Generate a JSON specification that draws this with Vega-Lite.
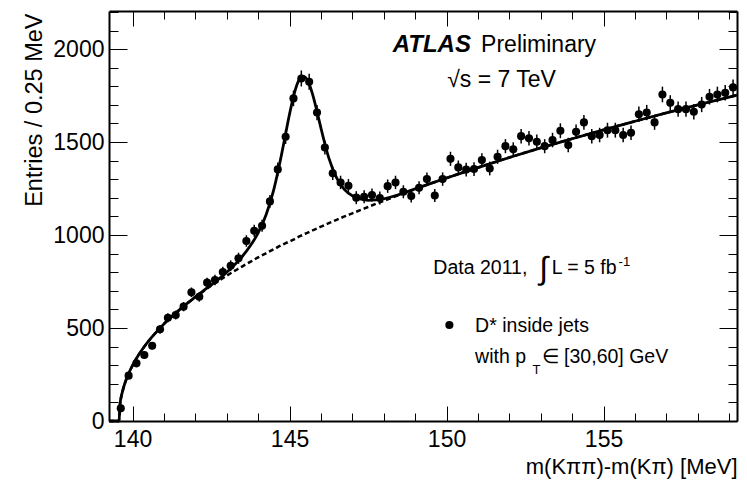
{
  "$schema": "https://vega.github.io/schema/vega-lite/v6.json",
  "autosize": {"type": "none"},
  "padding": {"left": 109, "top": 11, "right": 10, "bottom": 62},
  "width": 628,
  "height": 410,
  "background": "white",
  "config": {
    "font": "Liberation Sans",
    "view": {"stroke": null},
    "axis": {
      "domainColor": "black", "domainWidth": 2, "tickColor": "black", "tickWidth": 1,
      "labelColor": "black", "titleColor": "black", "labelFontSize": 23, "titleFontSize": 23,
      "titleFontWeight": "normal", "labelFlush": false, "labelOverlap": false, "grid": false
    }
  },
  "datasets": {
    "points": [
      {"m": 139.625, "v": 68, "err": 8}, {"m": 139.875, "v": 244, "err": 16}, {"m": 140.125, "v": 310, "err": 18},
      {"m": 140.375, "v": 355, "err": 19}, {"m": 140.625, "v": 405, "err": 20}, {"m": 140.875, "v": 493, "err": 22},
      {"m": 141.125, "v": 555, "err": 24}, {"m": 141.375, "v": 570, "err": 24}, {"m": 141.625, "v": 615, "err": 25},
      {"m": 141.875, "v": 692, "err": 26}, {"m": 142.125, "v": 668, "err": 26}, {"m": 142.375, "v": 744, "err": 27},
      {"m": 142.625, "v": 758, "err": 28}, {"m": 142.875, "v": 801, "err": 28}, {"m": 143.125, "v": 835, "err": 29},
      {"m": 143.375, "v": 875, "err": 30}, {"m": 143.625, "v": 968, "err": 31}, {"m": 143.875, "v": 1023, "err": 32},
      {"m": 144.125, "v": 1050, "err": 32}, {"m": 144.375, "v": 1181, "err": 34}, {"m": 144.625, "v": 1353, "err": 37},
      {"m": 144.875, "v": 1529, "err": 39}, {"m": 145.125, "v": 1735, "err": 42}, {"m": 145.375, "v": 1842, "err": 43},
      {"m": 145.625, "v": 1824, "err": 43}, {"m": 145.875, "v": 1659, "err": 41}, {"m": 146.125, "v": 1471, "err": 38},
      {"m": 146.375, "v": 1332, "err": 36}, {"m": 146.625, "v": 1283, "err": 36}, {"m": 146.875, "v": 1265, "err": 36},
      {"m": 147.125, "v": 1201, "err": 35}, {"m": 147.375, "v": 1206, "err": 35}, {"m": 147.625, "v": 1215, "err": 35},
      {"m": 147.875, "v": 1199, "err": 35}, {"m": 148.125, "v": 1263, "err": 36}, {"m": 148.375, "v": 1283, "err": 36},
      {"m": 148.625, "v": 1233, "err": 35}, {"m": 148.875, "v": 1210, "err": 35}, {"m": 149.125, "v": 1254, "err": 35},
      {"m": 149.375, "v": 1301, "err": 36}, {"m": 149.625, "v": 1213, "err": 35}, {"m": 149.875, "v": 1301, "err": 36},
      {"m": 150.125, "v": 1410, "err": 38}, {"m": 150.375, "v": 1364, "err": 37}, {"m": 150.625, "v": 1352, "err": 37},
      {"m": 150.875, "v": 1355, "err": 37}, {"m": 151.125, "v": 1403, "err": 37}, {"m": 151.375, "v": 1358, "err": 37},
      {"m": 151.625, "v": 1421, "err": 38}, {"m": 151.875, "v": 1478, "err": 38}, {"m": 152.125, "v": 1461, "err": 38},
      {"m": 152.375, "v": 1532, "err": 39}, {"m": 152.625, "v": 1520, "err": 39}, {"m": 152.875, "v": 1502, "err": 39},
      {"m": 153.125, "v": 1478, "err": 38}, {"m": 153.375, "v": 1511, "err": 39}, {"m": 153.625, "v": 1561, "err": 40},
      {"m": 153.875, "v": 1484, "err": 39}, {"m": 154.125, "v": 1555, "err": 39}, {"m": 154.375, "v": 1606, "err": 40},
      {"m": 154.625, "v": 1532, "err": 39}, {"m": 154.875, "v": 1538, "err": 39}, {"m": 155.125, "v": 1564, "err": 40},
      {"m": 155.375, "v": 1564, "err": 40}, {"m": 155.625, "v": 1538, "err": 39}, {"m": 155.875, "v": 1550, "err": 39},
      {"m": 156.125, "v": 1650, "err": 41}, {"m": 156.375, "v": 1659, "err": 41}, {"m": 156.625, "v": 1606, "err": 40},
      {"m": 156.875, "v": 1756, "err": 42}, {"m": 157.125, "v": 1711, "err": 41}, {"m": 157.375, "v": 1677, "err": 41},
      {"m": 157.625, "v": 1677, "err": 41}, {"m": 157.875, "v": 1663, "err": 41}, {"m": 158.125, "v": 1702, "err": 41},
      {"m": 158.375, "v": 1744, "err": 42}, {"m": 158.625, "v": 1756, "err": 42}, {"m": 158.875, "v": 1765, "err": 42},
      {"m": 159.125, "v": 1794, "err": 42}
    ],
    "curve": [
      {"m": 139.25, "fit": 0, "bg": 0}, {"m": 139.57, "fit": 0, "bg": 0}, {"m": 139.6, "fit": 87, "bg": 87},
      {"m": 139.65, "fit": 138, "bg": 138}, {"m": 139.7, "fit": 172, "bg": 172}, {"m": 139.8, "fit": 224, "bg": 224},
      {"m": 139.9, "fit": 265, "bg": 265}, {"m": 140.0, "fit": 299, "bg": 299}, {"m": 140.2, "fit": 357, "bg": 357},
      {"m": 140.4, "fit": 406, "bg": 406}, {"m": 140.6, "fit": 448, "bg": 448}, {"m": 140.8, "fit": 486, "bg": 486},
      {"m": 141.0, "fit": 522, "bg": 522}, {"m": 141.25, "fit": 562, "bg": 562}, {"m": 141.5, "fit": 599, "bg": 599},
      {"m": 141.75, "fit": 634, "bg": 634}, {"m": 142.0, "fit": 667, "bg": 666}, {"m": 142.25, "fit": 700, "bg": 697},
      {"m": 142.5, "fit": 731, "bg": 727}, {"m": 142.75, "fit": 764, "bg": 755}, {"m": 143.0, "fit": 800, "bg": 782},
      {"m": 143.25, "fit": 840, "bg": 807}, {"m": 143.5, "fit": 886, "bg": 832}, {"m": 143.75, "fit": 942, "bg": 856},
      {"m": 144.0, "fit": 1012, "bg": 880}, {"m": 144.25, "fit": 1108, "bg": 902}, {"m": 144.5, "fit": 1246, "bg": 924},
      {"m": 144.75, "fit": 1437, "bg": 946}, {"m": 144.875, "fit": 1545, "bg": 956}, {"m": 145.0, "fit": 1651, "bg": 966},
      {"m": 145.125, "fit": 1745, "bg": 976}, {"m": 145.25, "fit": 1815, "bg": 987}, {"m": 145.4, "fit": 1854, "bg": 999},
      {"m": 145.5, "fit": 1849, "bg": 1007}, {"m": 145.625, "fit": 1812, "bg": 1016}, {"m": 145.75, "fit": 1747, "bg": 1026},
      {"m": 145.875, "fit": 1664, "bg": 1035}, {"m": 146.0, "fit": 1575, "bg": 1045}, {"m": 146.25, "fit": 1415, "bg": 1064},
      {"m": 146.5, "fit": 1307, "bg": 1082}, {"m": 146.75, "fit": 1244, "bg": 1100}, {"m": 147.0, "fit": 1211, "bg": 1117},
      {"m": 147.25, "fit": 1194, "bg": 1134}, {"m": 147.5, "fit": 1187, "bg": 1151}, {"m": 147.75, "fit": 1189, "bg": 1168},
      {"m": 148.0, "fit": 1195, "bg": 1184}, {"m": 148.5, "fit": 1219, "bg": 1216}, {"m": 149.0, "fit": 1248, "bg": 1247},
      {"m": 150.0, "fit": 1307, "bg": 1307}, {"m": 151.0, "fit": 1363, "bg": 1363}, {"m": 152.0, "fit": 1417, "bg": 1417},
      {"m": 153.0, "fit": 1469, "bg": 1469}, {"m": 154.0, "fit": 1518, "bg": 1518}, {"m": 155.0, "fit": 1566, "bg": 1566},
      {"m": 156.0, "fit": 1612, "bg": 1612}, {"m": 157.0, "fit": 1657, "bg": 1657}, {"m": 158.0, "fit": 1700, "bg": 1700},
      {"m": 159.0, "fit": 1742, "bg": 1742}, {"m": 159.25, "fit": 1753, "bg": 1753}
    ],
    "big": [
      {"m": 151.1, "v": 1982, "t": "Preliminary"},
      {"m": 150.02, "v": 1797, "t": "√s = 7 TeV"}
    ],
    "mid": [
      {"m": 149.58, "v": 789, "t": "Data 2011,"},
      {"m": 153.35, "v": 789, "t": "L = 5 fb"},
      {"m": 150.91, "v": 480, "t": "D* inside jets"},
      {"m": 150.91, "v": 310, "t": "with p"},
      {"m": 153.03, "v": 310, "t": "∈ [30,60] GeV"}
    ],
    "small": [
      {"m": 155.48, "v": 835, "t": "-1"},
      {"m": 152.74, "v": 251, "t": "T"}
    ],
    "legend": [{"m": 150.09, "v": 516}]
  },
  "resolve": {"axis": {"x": "independent", "y": "independent"}},
  "layer": [
    {
      "data": {"name": "points"},
      "mark": {"type": "errorbar", "color": "black", "thickness": 1.5},
      "encoding": {
        "x": {"field": "m", "type": "quantitative", "scale": {"domain": [139.25, 159.25], "nice": false, "zero": false}, "axis": null},
        "y": {"field": "v", "type": "quantitative", "scale": {"domain": [0, 2205], "nice": false, "zero": false}, "axis": null},
        "yError": {"field": "err"}
      }
    },
    {
      "data": {"name": "points"},
      "mark": {"type": "point", "filled": true, "color": "black", "opacity": 1, "size": 66},
      "encoding": {
        "x": {"field": "m", "type": "quantitative", "scale": {"domain": [139.25, 159.25], "nice": false, "zero": false},
          "axis": {"orient": "bottom", "values": [140,141,142,143,144,145,146,147,148,149,150,151,152,153,154,155,156,157,158,159],
            "tickSize": {"condition": {"test": "datum.value % 5 === 0", "value": -15}, "value": -8},
            "labelExpr": "datum.value % 5 === 0 ? datum.label : ''", "labelPadding": 22,
            "title": "m(Kππ)-m(Kπ) [MeV]", "titleFontSize": 22, "titleAnchor": "end", "titleAlign": "right", "titleX": 628, "titleY": 52, "titleBaseline": "alphabetic"}},
        "y": {"field": "v", "type": "quantitative", "scale": {"domain": [0, 2205], "nice": false, "zero": false},
          "axis": {"orient": "left", "values": [0,100,200,300,400,500,600,700,800,900,1000,1100,1200,1300,1400,1500,1600,1700,1800,1900,2000,2100,2200],
            "tickSize": {"condition": {"test": "datum.value % 500 === 0", "value": -18}, "value": -9},
            "labelExpr": "datum.value % 500 === 0 ? datum.label : ''", "labelPadding": 23, "format": "d",
            "title": "Entries / 0.25 MeV", "titleFontSize": 23.5, "titleAnchor": "end", "titleAlign": "right", "titleAngle": 270, "titleX": -68, "titleY": 2, "titleBaseline": "alphabetic"}}
      }
    },
    {
      "data": {"name": "curve"},
      "mark": {"type": "line", "color": "black", "strokeWidth": 2.5, "strokeDash": [5, 3], "interpolate": "monotone"},
      "encoding": {
        "x": {"field": "m", "type": "quantitative", "scale": {"domain": [139.25, 159.25], "nice": false, "zero": false}, "axis": null},
        "y": {"field": "bg", "type": "quantitative", "scale": {"domain": [0, 2205], "nice": false, "zero": false}, "axis": null}
      }
    },
    {
      "data": {"name": "curve"},
      "mark": {"type": "line", "color": "black", "strokeWidth": 2.8, "interpolate": "monotone"},
      "encoding": {
        "x": {"field": "m", "type": "quantitative", "scale": {"domain": [139.25, 159.25], "nice": false, "zero": false},
          "axis": {"orient": "top", "values": [140,141,142,143,144,145,146,147,148,149,150,151,152,153,154,155,156,157,158,159],
            "tickSize": {"condition": {"test": "datum.value % 5 === 0", "value": -15}, "value": -8}, "labels": false, "title": null}},
        "y": {"field": "fit", "type": "quantitative", "scale": {"domain": [0, 2205], "nice": false, "zero": false},
          "axis": {"orient": "right", "values": [0,100,200,300,400,500,600,700,800,900,1000,1100,1200,1300,1400,1500,1600,1700,1800,1900,2000,2100,2200],
            "tickSize": {"condition": {"test": "datum.value % 500 === 0", "value": -18}, "value": -9}, "labels": false, "title": null}}
      }
    },
    {
      "data": {"values": [{"m": 148.285, "v": 1982, "t": "ATLAS"}]},
      "mark": {"type": "text", "align": "left", "baseline": "alphabetic", "fontSize": 24, "fontWeight": "bold", "fontStyle": "italic", "color": "black"},
      "encoding": {
        "x": {"field": "m", "type": "quantitative", "axis": null},
        "y": {"field": "v", "type": "quantitative", "axis": null},
        "text": {"field": "t"}
      }
    },
    {
      "data": {"name": "big"},
      "mark": {"type": "text", "align": "left", "baseline": "alphabetic", "fontSize": 23, "color": "black"},
      "encoding": {
        "x": {"field": "m", "type": "quantitative", "axis": null},
        "y": {"field": "v", "type": "quantitative", "axis": null},
        "text": {"field": "t"}
      }
    },
    {
      "data": {"name": "mid"},
      "mark": {"type": "text", "align": "left", "baseline": "alphabetic", "fontSize": 19.5, "color": "black"},
      "encoding": {
        "x": {"field": "m", "type": "quantitative", "axis": null},
        "y": {"field": "v", "type": "quantitative", "axis": null},
        "text": {"field": "t"}
      }
    },
    {
      "data": {"name": "small"},
      "mark": {"type": "text", "align": "left", "baseline": "alphabetic", "fontSize": 13, "color": "black"},
      "encoding": {
        "x": {"field": "m", "type": "quantitative", "axis": null},
        "y": {"field": "v", "type": "quantitative", "axis": null},
        "text": {"field": "t"}
      }
    },
    {
      "data": {"values": [{"m": 153.09, "v": 817, "t": "∫"}]},
      "mark": {"type": "text", "align": "center", "baseline": "middle", "fontSize": 32, "color": "black"},
      "encoding": {
        "x": {"field": "m", "type": "quantitative", "axis": null},
        "y": {"field": "v", "type": "quantitative", "axis": null},
        "text": {"field": "t"}
      }
    },
    {
      "data": {"name": "legend"},
      "mark": {"type": "point", "filled": true, "color": "black", "opacity": 1, "size": 66},
      "encoding": {
        "x": {"field": "m", "type": "quantitative", "axis": null},
        "y": {"field": "v", "type": "quantitative", "axis": null}
      }
    }
  ]
}
